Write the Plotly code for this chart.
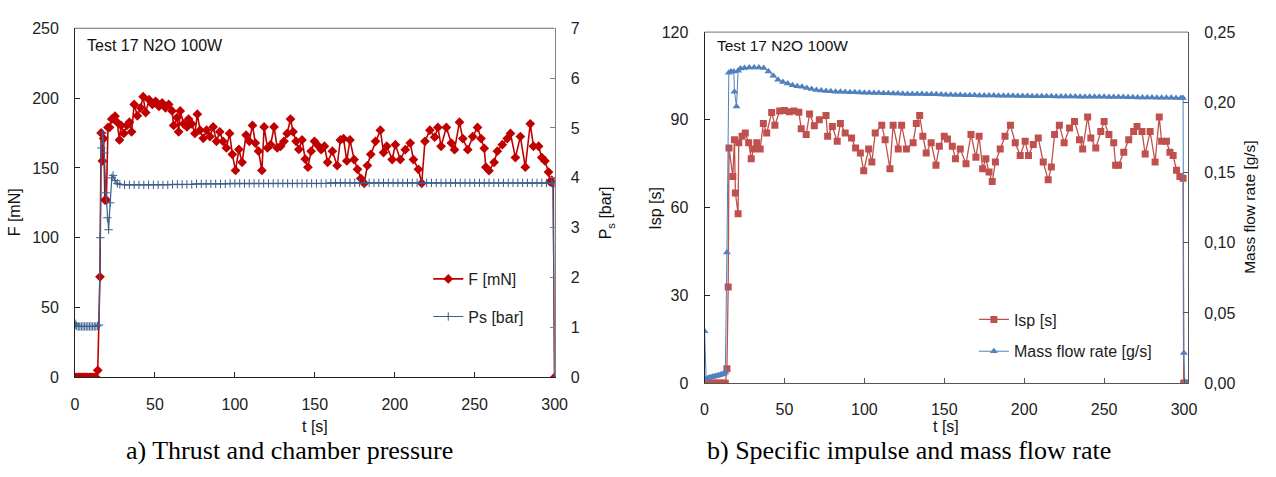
import plotly.graph_objects as go

# ---------------- Left chart: thrust F [mN] and chamber pressure Ps [bar] ----------------
F_T = [0, 1, 2, 3, 4, 5, 6, 7, 8, 9, 10, 11, 12, 13, 14.2, 15.6, 16.3, 17.1, 17.9, 18.7, 19.6, 20.6,
       21.6, 23, 25, 26.3, 27.8, 28.8, 30.5, 32.5, 34, 35.4, 37, 39, 41, 42.6, 44.2, 46.3, 48.4, 50.4,
       52.5, 54.5, 56.6, 58.6, 60.7, 61.7, 63.8, 64.8, 65.8, 67.9, 70, 71, 73, 75, 76.5, 78.2, 80.2,
       82.3, 84.4, 86.4, 88.5, 90.5, 92.6, 94.7, 96.7, 98.4, 100.4, 102.5, 104.5, 107, 109, 111, 112.8,
       114.8, 116.9, 118.3, 120.4, 122.4, 124.5, 126.5, 128.6, 130.7, 132.7, 134.8, 136.4, 138.3, 140,
       142, 144, 145.7, 147.7, 149.8, 152, 154, 156, 158, 161, 164, 166, 168, 170, 172, 174.6, 176.7,
       178.8, 180.9, 182.9, 185, 188, 191, 193, 195, 198.4, 200.4, 203.5, 206.6, 209.7, 211.7, 214.8,
       216.9, 218.9, 222, 225, 227, 229, 232.3, 235.4, 237.4, 240.5, 242.6, 245.7, 248.8, 251.8, 254,
       256, 257, 259, 262.2, 264.2, 267.3, 270.4, 272.4, 275.5, 278.6, 281.7, 284.8, 286.8, 290, 292,
       294, 296.2, 297.2, 298.2, 299.2, 300]
F_V = [0, 0, 0, 0, 0, 0, 0, 0, 0, 0, 0, 0, 0, 0, 5, 72, 175, 155, 171, 127, 127, 179,
       179, 185, 187, 182.7, 170, 180.4, 174.7, 180.4, 182.7, 175.8, 195.4, 187.3, 193, 201, 189.6, 198.8,
       195.4, 197.7, 194, 196.5, 193, 195.4, 190.8, 180.4, 186, 175.8, 190.8, 181.6, 179.3, 185, 181.6,
       174.7, 188.5, 177, 171.2, 177, 172.4, 179.3, 169, 175.8, 169, 164.3, 174.7, 159.7, 148.2, 163.2,
       154, 173.5, 169, 180.4, 167.8, 162, 148.2, 179.3, 164.3, 166.6, 179.3, 164.3, 165.5, 169, 174.7,
       185, 175.8, 169, 163.2, 170, 156.3, 150.5, 162, 169, 166, 163, 165.5, 154, 162, 151.7, 170, 171,
       155, 170, 156, 149, 142.4, 139, 151.7, 159.7, 169, 177, 161, 165.5, 156, 166.6, 156, 163, 167.8,
       156, 149, 139, 169, 177, 172, 179, 165.5, 179, 167.8, 163, 182.7, 171, 163, 172.4, 179, 171, 164,
       150.5, 148, 154, 162, 166.6, 171, 174.7, 157.4, 172.4, 150.5, 181.6, 165.5, 165.5, 157.4, 155,
       147, 140, 141.3, 139, 0]

PS_T = [0, 0.5, 1, 2, 3, 4, 5, 6, 7, 8, 9, 10, 11, 12, 13, 14, 15, 15.8, 16.5, 17.3, 18.3, 19.3, 20.2,
        21, 22, 23, 23.8, 25, 26.5, 28, 31, 34, 37, 40, 43, 46, 49, 52, 55, 58, 61, 64, 67, 70, 73, 76,
        79, 82, 85, 88, 91, 94, 97, 100, 103, 106, 109, 112, 115, 118, 121, 124, 127, 130, 133, 136, 139,
        142, 145, 148, 151, 154, 157, 160, 163, 166, 169, 172, 175, 178, 181, 184, 187, 190, 193, 196,
        199, 202, 205, 208, 211, 214, 217, 220, 223, 226, 229, 232, 235, 238, 241, 244, 247, 250, 253,
        256, 259, 262, 265, 268, 271, 274, 277, 280, 283, 286, 289, 292, 295, 298, 299, 300]
PS_V = [1.08, 1.05, 1.03, 1.02, 1.02, 1.02, 1.02, 1.02, 1.02, 1.02, 1.02, 1.02, 1.02, 1.02, 1.02, 1.03,
        1.05, 2.8, 4.6, 4.9, 4.5, 3.7, 3.2, 2.96, 3.5, 4.0, 4.05, 3.95, 3.89, 3.87, 3.86, 3.86, 3.86,
        3.86, 3.86, 3.86, 3.86, 3.86, 3.86, 3.86, 3.87, 3.87, 3.87, 3.87, 3.87, 3.88, 3.88, 3.88, 3.88,
        3.88, 3.88, 3.88, 3.89, 3.89, 3.89, 3.89, 3.89, 3.89, 3.89, 3.89, 3.89, 3.89, 3.89, 3.89, 3.89,
        3.89, 3.89, 3.89, 3.89, 3.89, 3.89, 3.89, 3.89, 3.9, 3.9, 3.9, 3.9, 3.9, 3.9, 3.9, 3.9, 3.9, 3.9,
        3.9, 3.9, 3.9, 3.9, 3.9, 3.9, 3.9, 3.9, 3.9, 3.9, 3.9, 3.9, 3.9, 3.9, 3.9, 3.9, 3.9, 3.9, 3.9,
        3.9, 3.9, 3.9, 3.9, 3.9, 3.9, 3.9, 3.9, 3.9, 3.9, 3.9, 3.9, 3.9, 3.9, 3.9, 3.9, 3.9, 3.9, 3.89, 0]

# ---------------- Right chart: specific impulse Isp [s] and mass flow rate [g/s] ----------------
ISP_T = [0, 1, 2, 3, 4, 5, 6, 7, 8, 9, 10, 11, 12, 13, 14, 14.8, 15.3, 17.7, 18.7, 19.3, 21, 21.4,
         23.5, 25.5, 27.6, 29.2, 30.7, 32.7, 34.8, 36.8, 38.9, 42, 44, 47, 50, 53, 56, 59, 60.5, 63.6,
         65.7, 68.7, 71.8, 76, 77, 80, 83, 85, 88, 92, 94.5, 97.5, 99.6, 102.7, 104.7, 106.8, 110.9, 113,
         116, 118, 121.2, 123.3, 126.3, 130.5, 132.5, 134.6, 136.6, 138.7, 141.8, 144.8, 146.9, 150, 152,
         155, 157, 160, 163.6, 166.7, 169.8, 171.8, 174, 176, 178, 180, 182, 185, 188, 191.4, 194.4,
         197.5, 200.6, 202.7, 205.7, 208.8, 211.9, 215, 217, 219, 222, 225, 228.4, 231.5, 234.6, 236.6,
         239.7, 241.7, 244.8, 247.9, 250, 253, 256, 257.2, 259, 262.3, 265.4, 268.5, 270.6, 273.7, 275.7,
         278.8, 281.9, 284.5, 286, 289, 291.2, 293.2, 295.3, 297.4, 299.4, 299.8, 300.5, 301]
ISP_V = [0, 0, 0, 0, 0, 0, 0, 0, 0, 0, 0, 0, 0, 0, 4.9, 32.9, 80.4, 70.6, 83.2, 65, 57.9, 82.2,
         84.4, 85.5, 82.2, 76.7, 80, 82.2, 80, 88.8, 85.5, 92.5, 88.2, 93, 93.2, 92.8, 93, 92.6, 87, 85,
         92, 88, 90, 91.5, 84.4, 87.7, 82.7, 88.8, 85.5, 83.8, 80.4, 78.7, 72.6, 80, 75.6, 85.5, 88.2, 83.2,
         73.3, 88.2, 80, 88.2, 80, 82.2, 88.8, 91.5, 84.4, 78.7, 82.2, 74.5, 81, 84.4, 83.5,
         81, 76.7, 80, 75, 85, 77.2, 84.4, 73.3, 76.7, 72.2, 68.9, 75.6, 80, 84.4, 88.2, 82.2,
         77.8, 82.7, 77.8, 81.6, 83.8, 75.6, 69.5, 73.9, 85, 88.2, 82.2, 87.2, 89.4, 83.2, 80,
         91, 83.8, 80.4, 86, 89.4, 85, 82.2, 74.5, 74.5, 78.9, 83.2, 86, 87.7, 86, 78.3,
         86, 75.6, 91, 82.7, 82.7, 78.9, 77.8, 72.8, 70.6, 70, 0, 0, 0]

MF_T = [0, 1, 2, 3, 4, 5, 6, 7, 8, 9, 10, 11, 12, 13, 14, 15.2, 16.5, 18.3, 18.7, 20, 21, 22.5, 25,
        28, 31, 34, 37, 40, 43, 46, 49, 52, 55, 58, 61, 64, 67, 70, 73, 76, 79, 82, 85, 88, 91, 94, 97,
        100, 103, 106, 109, 112, 115, 118, 121, 124, 127, 130, 133, 136, 139, 142, 145, 148, 151, 154,
        157, 160, 163, 166, 169, 172, 175, 178, 181, 184, 187, 190, 193, 196, 199, 202, 205, 208, 211,
        214, 217, 220, 223, 226, 229, 232, 235, 238, 241, 244, 247, 250, 253, 256, 259, 262, 265, 268,
        271, 274, 277, 280, 283, 286, 289, 292, 295, 298, 299.4, 299.9, 300.5, 301]
MF_V = [0.037, 0.003, 0.0035, 0.004, 0.0042, 0.0045, 0.0048, 0.005, 0.0053, 0.0056, 0.006, 0.0063,
        0.0066, 0.0075, 0.093, 0.221, 0.222, 0.222, 0.2076, 0.197, 0.2225, 0.224, 0.2245, 0.2248, 0.2248,
        0.2248, 0.2245, 0.222, 0.219, 0.216, 0.2145, 0.2134, 0.2122, 0.2115, 0.211, 0.2102, 0.2095,
        0.2088, 0.2085, 0.208, 0.2078, 0.2076, 0.2075, 0.2073, 0.2072, 0.2071, 0.207, 0.2069, 0.2068,
        0.2067, 0.2066, 0.2065, 0.2064, 0.2063, 0.2062, 0.2061, 0.206, 0.206, 0.2059, 0.2059, 0.2058,
        0.2058, 0.2057, 0.2056, 0.2053, 0.2053, 0.2052, 0.2052, 0.2051, 0.205, 0.205, 0.2049, 0.2049,
        0.2048, 0.2048, 0.2047, 0.2047, 0.2046, 0.2046, 0.2045, 0.2045, 0.2045, 0.2044, 0.2044, 0.2043,
        0.2043, 0.2043, 0.2042, 0.2042, 0.2041, 0.2041, 0.2041, 0.204, 0.204, 0.204, 0.2039, 0.2039,
        0.2039, 0.2038, 0.2038, 0.2037, 0.2037, 0.2036, 0.2036, 0.2035, 0.2035, 0.2034, 0.2034, 0.2033,
        0.2033, 0.2032, 0.2032, 0.2031, 0.2031, 0.2031, 0.0215, 0, 0]

F_TICKS = [0, 50, 100, 150, 200, 250]
PS_TICKS = [0, 1, 2, 3, 4, 5, 6, 7]
ISP_TICKS = [0, 30, 60, 90, 120]
MF_TICKS = [0.0, 0.05, 0.10, 0.15, 0.20, 0.25]
T_TICKS = [0, 50, 100, 150, 200, 250, 300]

W, H = 1276, 477
FONT = "Liberation Sans, Arial, sans-serif"
SERIF = "Liberation Serif, Times New Roman, serif"

def px(x):
    return x / W

def py(y):
    return 1 - y / H

C_F = "#C00000"
C_PS = "#3B5E8C"
C_ISP = "#C0504D"
C_MF = "#4F81BD"

fig = go.Figure()

fig.add_trace(go.Scatter(x=F_T, y=F_V, name="F [mN]", mode="lines+markers", xaxis="x", yaxis="y",
                         line=dict(color=C_F, width=1.6),
                         marker=dict(symbol="diamond", size=7.5, color=C_F), legend="legend"))
fig.add_trace(go.Scatter(x=PS_T, y=PS_V, name="Ps [bar]", mode="lines+markers", xaxis="x", yaxis="y2",
                         line=dict(color=C_PS, width=1.2),
                         marker=dict(symbol="cross-thin-open", size=6, color=C_PS,
                                     line=dict(width=1, color=C_PS)), legend="legend2"))
fig.add_trace(go.Scatter(x=ISP_T, y=ISP_V, name="Isp [s]", mode="lines+markers", xaxis="x2", yaxis="y3",
                         line=dict(color=C_ISP, width=1.3),
                         marker=dict(symbol="square", size=7, color=C_ISP), legend="legend3"))
fig.add_trace(go.Scatter(x=MF_T, y=MF_V, name="Mass flow rate [g/s]", mode="lines+markers", xaxis="x2",
                         yaxis="y4", line=dict(color=C_MF, width=1),
                         marker=dict(symbol="triangle-up", size=7, color=C_MF), legend="legend4"))

axis_common = dict(showgrid=False, zeroline=False, showline=True, ticks="inside", ticklen=5,
                   tickfont=dict(family=FONT, size=16, color="#222"), ticklabelstandoff=12)

LX = [px(72), px(558)]
LY = [py(383), py(21)]
RX = [px(710), px(1200)]
RY = [py(389), py(25)]

fig.update_layout(
    width=W, height=H, margin=dict(l=0, r=0, t=0, b=0),
    paper_bgcolor="white", plot_bgcolor="white",
    separators=",.",
    xaxis=dict(domain=LX, anchor="y", range=[0, 300], tickvals=T_TICKS, linecolor="#222",
               tickcolor="#222", **axis_common),
    yaxis=dict(domain=LY, anchor="x", range=[0, 250], tickvals=F_TICKS, linecolor="#222",
               tickcolor="#222", **axis_common),
    yaxis2=dict(overlaying="y", side="right", anchor="x", range=[0, 7], tickvals=PS_TICKS,
                linecolor="#808080", tickcolor="#808080", **axis_common),
    xaxis2=dict(domain=RX, anchor="y3", range=[0, 302.5], tickvals=T_TICKS, linecolor="#555",
                tickcolor="#555", **axis_common),
    yaxis3=dict(domain=RY, anchor="x2", range=[0, 120], tickvals=ISP_TICKS, linecolor="#222",
                tickcolor="#222", **axis_common),
    yaxis4=dict(overlaying="y3", side="right", anchor="x2", range=[0, 0.25], tickvals=MF_TICKS,
                tickformat=".2f", linecolor="#555", tickcolor="#555", **axis_common),
    showlegend=True,
)

leg_common = dict(bgcolor="rgba(0,0,0,0)", borderwidth=0, xanchor="left", yanchor="middle",
                  font=dict(family=FONT, size=16, color="#222"), itemwidth=30)
fig.update_layout(
    legend=dict(x=px(430), y=py(281), **leg_common),
    legend2=dict(x=px(430), y=py(320), **leg_common),
    legend3=dict(x=px(983), y=py(323), **leg_common),
    legend4=dict(x=px(983), y=py(356), **leg_common),
)

# top borders of the two plot frames
fig.add_shape(type="line", xref="paper", yref="paper", x0=LX[0], x1=LX[1], y0=LY[1], y1=LY[1],
              line=dict(color="#707070", width=1))
fig.add_shape(type="line", xref="paper", yref="paper", x0=RX[0], x1=RX[1], y0=RY[1], y1=RY[1],
              line=dict(color="#707070", width=1))

def ann(text, x, y, size=16, angle=0, family=FONT, color="#111", xanchor="center"):
    fig.add_annotation(text=text, x=px(x), y=py(y), xref="paper", yref="paper", showarrow=False,
                       textangle=angle, xanchor=xanchor, yanchor="middle",
                       font=dict(family=family, size=size, color=color))

ann("Test 17 N2O 100W", 82, 38.5, size=16, xanchor="left")
ann("Test 17 N2O 100W", 721, 38.5, size=15.5, xanchor="left")
ann("F [mN]", 11, 212, angle=-90)
ann("P<sub>s</sub> [bar]", 611, 212, angle=-90)
ann("t [s]", 315, 434)
ann("t [s]", 955, 434)
ann("Isp [s]", 660, 208, angle=-90)
ann("Mass flow rate [g/s]", 1262, 206, size=15.5, angle=-90)
ann("a) Thrust and chamber pressure", 289, 459, size=26, family=SERIF, color="#000")
ann("b) Specific impulse and mass flow rate", 917, 459, size=26, family=SERIF, color="#000")

fig.write_html("out.html")
